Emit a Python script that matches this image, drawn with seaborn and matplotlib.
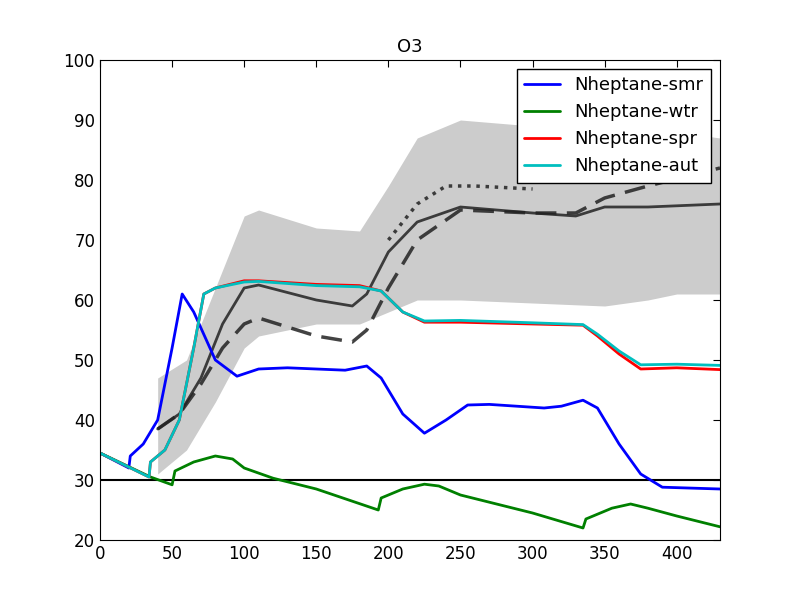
import numpy as np
import pandas as pd
import matplotlib
matplotlib.use("Agg")
import matplotlib.pyplot as plt
import seaborn as sns

# ===================== DATA =====================
band_x = [40, 60, 80, 100, 110, 150, 180, 200, 220, 250, 300, 350, 380, 400, 430]
band_lo = [31, 35, 43, 52, 54, 56, 56, 58, 60, 60, 59.5, 59, 60, 61, 61]
band_hi = [47, 50, 62, 74, 75, 72, 71.5, 79, 87, 90, 89, 88, 88, 88, 87]

ref_x = [40, 55, 70, 85, 100, 110, 150, 175, 185, 200, 220, 250, 300, 330, 350, 380, 430]
ref_solid = [38.5, 41, 47, 56, 62, 62.5, 60, 59, 61, 68, 73, 75.5, 74.5, 74, 75.5, 75.5, 76]
ref_dash = [38.5, 41, 46, 52, 56, 57, 54, 53, 55, 62, 70, 75, 74.5, 74.5, 77, 79, 82]
dot_x = [200, 220, 240, 260, 300]
ref_dot = [70, 76, 79, 79, 78.5]

smr_x = [0, 20, 21, 30, 40, 50, 57, 65, 80, 95, 110, 130, 170, 185, 195, 210, 225, 240, 255, 270,
         308, 320, 335, 345, 360, 375, 390, 430]
smr_y = [34.5, 32, 34, 36, 40, 52, 61, 58, 50, 47.3, 48.5, 48.7, 48.3, 49, 47, 41, 37.8, 40, 42.5, 42.6,
         42, 42.3, 43.3, 42, 36, 31, 28.8, 28.5]
wtr_x = [0, 35, 50, 52, 65, 80, 92, 100, 120, 150, 193, 195, 210, 225, 235, 250, 300, 335, 337,
         355, 368, 380, 400, 430]
wtr_y = [34.5, 30.5, 29.2, 31.5, 33, 34, 33.5, 32, 30.3, 28.5, 25, 27, 28.5, 29.3, 29, 27.5, 24.5, 22, 23.5,
         25.3, 26, 25.3, 24, 22.2]
spr_x = [0, 34, 35, 45, 55, 65, 72, 80, 100, 110, 150, 180, 195, 210, 225, 250, 300, 335, 345, 360,
         375, 400, 430]
spr_y = [34.5, 30.5, 33, 35, 40, 52, 61, 62, 63.2, 63.2, 62.6, 62.4, 61.5, 58, 56.3, 56.3, 56, 55.8, 54, 51,
         48.5, 48.7, 48.4]
aut_y = [34.5, 30.5, 33, 35, 40, 52, 61, 62, 63.0, 63.1, 62.4, 62.2, 61.5, 58, 56.5, 56.6, 56.2, 55.9, 54.3, 51.5,
         49.2, 49.3, 49.1]

# ===================== PLOT =====================
sns.set_style("white")
plt.rcParams['font.family'] = ['DejaVu Sans']
plt.rcParams['text.color'] = 'black'
plt.rcParams['xtick.color'] = 'black'
plt.rcParams['ytick.color'] = 'black'
fig = plt.figure(figsize=(8, 6), dpi=100)
ax = fig.add_axes([0.125, 0.1, 0.775, 0.8])

ax.fill_between(band_x, band_lo, band_hi, color="#cccccc", lw=0)
ax.axhline(30, color="black", lw=1.5)
ax.plot(ref_x, ref_solid, color="#222222", lw=2, alpha=0.85)
ax.plot(ref_x, ref_dash, color="#222222", lw=2.5, ls=(0, (6, 3)), alpha=0.85)
ax.plot(dot_x, ref_dot, color="#222222", lw=2.5, ls=":", alpha=0.85)

series = pd.concat([
    pd.DataFrame({"x": smr_x, "y": smr_y, "s": "Nheptane-smr"}),
    pd.DataFrame({"x": wtr_x, "y": wtr_y, "s": "Nheptane-wtr"}),
    pd.DataFrame({"x": spr_x, "y": spr_y, "s": "Nheptane-spr"}),
    pd.DataFrame({"x": spr_x, "y": aut_y, "s": "Nheptane-aut"}),
])
sns.lineplot(data=series, x="x", y="y", hue="s", sort=False, lw=2, ax=ax,
             palette=["#0000ff", "#008000", "#ff0000", "#00bfbf"])

ax.set_xlim(0, 430)
ax.set_ylim(20, 100)
ax.set_xticks(range(0, 401, 50))
ax.set_xlabel("")
ax.set_ylabel("")
ax.set_title("O3", fontsize=13, color="black")
ax.tick_params(labelsize=12, direction="in", length=5, top=True, right=True)
for s in ax.spines.values():
    s.set_color("black")
leg = ax.legend(loc="upper right", fontsize=13, frameon=True, fancybox=False, edgecolor="black")
leg.get_frame().set_facecolor("white")
leg.get_frame().set_alpha(1)
fig.savefig("out.png", dpi=100)
